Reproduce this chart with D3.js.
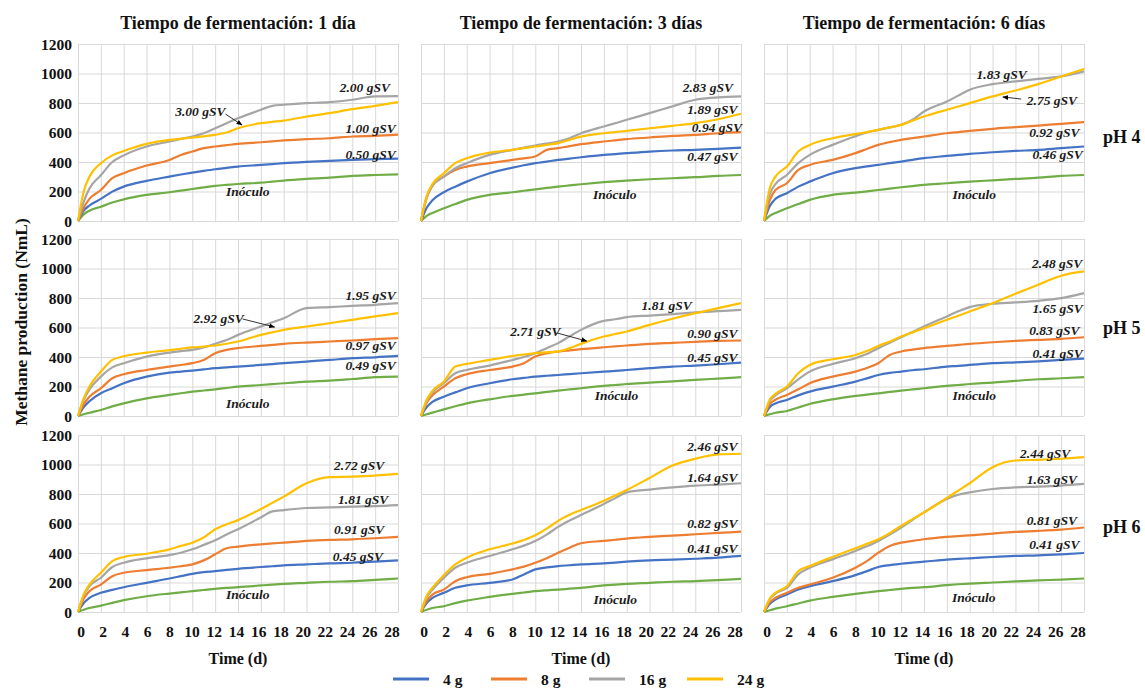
<!DOCTYPE html>
<html><head><meta charset="utf-8">
<script src="https://cdn.jsdelivr.net/npm/d3@7/dist/d3.min.js"></script>
<style>
body{margin:0;background:#fff;}
text{font-family:'Liberation Serif','DejaVu Serif',serif;}
</style></head>
<body><svg id="c" width="1145" height="689" font-family="Liberation Serif, DejaVu Serif, serif"></svg>
<script>
// ---------- data ----------
const days = [0,0.5,1,2,3,4,6,8,9,10,11,12,13,14,16,17,18,20,22,24,26,28];
const xTicks = [0,2,4,6,8,10,12,14,16,18,20,22,24,26,28];
const yTicks = [0,200,400,600,800,1000,1200];
const colTitles = ["Tiempo de fermentación: 1 día","Tiempo de fermentación: 3 días","Tiempo de fermentación: 6 días"];
const rowTitles = ["pH 4","pH 5","pH 6"];
const seriesNames = ["Inóculo","4 g","8 g","16 g","24 g"];
const seriesColors = ["#70AD47","#4472C4","#ED7D31","#A5A5A5","#FFC000"];
const legendNames = ["4 g","8 g","16 g","24 g"];
const legendColors = ["#4472C4","#ED7D31","#A5A5A5","#FFC000"];

// pH 4, 1 day
const ph4_d1_inoc = [0,45,70,97,125,147,177,195,206,217,228,238,245,251,260,267,274,285,294,306,312,316];
const ph4_d1_4g  = [0,70,105,150,199,233,272,301,315,328,340,351,360,369,380,386,392,401,408,414,419,423];
const ph4_d1_8g  = [0,90,150,210,290,324,376,414,448,471,494,505,514,523,534,540,546,555,561,573,577,585];
const ph4_d1_16g = [0,130,220,310,400,445,505,539,556,573,595,629,663,697,754,781,788,799,806,822,845,847];
const ph4_d1_24g = [0,200,300,392,445,475,523,550,558,566,574,584,600,629,663,672,681,708,731,758,781,806];
// pH 4, 3 days
const ph4_d3_inoc = [0,35,55,86,115,143,177,195,205,215,224,233,241,249,263,269,274,283,290,297,306,312];
const ph4_d3_4g  = [0,90,140,195,233,267,324,362,378,392,403,414,423,432,448,454,460,471,478,482,489,498];
const ph4_d3_8g  = [0,160,240,301,346,369,392,414,425,437,482,494,508,521,539,547,555,566,577,584,595,602];
const ph4_d3_16g = [0,160,240,301,358,392,448,482,497,512,525,539,561,595,641,663,686,731,777,822,838,845];
const ph4_d3_24g = [0,170,250,324,392,426,464,482,494,505,516,528,550,572,595,603,611,629,645,663,690,727];
// pH 4, 6 days
const ph4_d6_inoc = [0,35,55,86,115,143,177,192,201,210,220,229,237,245,256,262,267,276,285,294,306,312];
const ph4_d6_4g  = [0,100,150,188,233,267,324,358,370,380,392,403,415,426,441,448,455,466,475,482,494,505];
const ph4_d6_8g  = [0,140,210,256,346,380,414,460,488,516,535,550,562,573,595,603,611,625,636,647,659,670];
const ph4_d6_16g = [0,180,250,312,392,448,516,575,600,618,635,652,686,742,810,850,890,928,946,964,980,1014];
const ph4_d6_24g = [0,220,301,369,471,516,561,589,603,618,635,652,680,708,754,776,799,845,885,928,980,1030];
// pH 5, 1 day
const ph5_d1_inoc = [0,12,22,41,65,86,120,143,154,165,173,181,190,199,210,216,222,233,240,251,263,267];
const ph5_d1_4g  = [0,60,100,154,188,222,267,294,301,308,316,324,330,335,346,352,358,369,380,392,398,407];
const ph5_d1_8g  = [0,80,130,188,256,283,312,335,346,358,380,426,448,460,475,482,489,498,505,512,521,528];
const ph5_d1_16g = [0,110,180,267,330,358,403,430,440,448,465,490,515,550,607,635,663,731,738,747,754,765];
const ph5_d1_24g = [0,120,200,300,380,405,430,447,456,465,470,478,490,505,550,567,584,607,629,652,675,697];
// pH 5, 3 days
const ph5_d3_inoc = [0,12,23,45,66,86,113,136,145,154,163,172,180,188,204,210,217,226,235,245,254,263];
const ph5_d3_4g  = [0,60,95,131,160,188,222,249,258,267,273,278,284,290,301,306,312,324,335,342,351,362];
const ph5_d3_8g  = [0,90,140,199,256,283,312,335,358,403,425,437,445,453,466,472,478,489,496,503,509,512];
const ph5_d3_16g = [0,100,160,222,290,312,342,380,400,426,460,494,540,584,645,656,670,681,691,702,711,720];
const ph5_d3_24g = [0,110,170,233,335,353,380,407,417,426,432,437,460,489,539,556,573,618,659,697,731,765];
// pH 5, 6 days
const ph5_d6_inoc = [0,12,22,34,58,81,113,136,145,154,163,172,180,188,204,210,217,226,238,249,256,263];
const ph5_d6_4g  = [0,60,85,109,140,165,199,233,255,278,292,301,310,317,335,340,346,358,364,371,380,389];
const ph5_d6_8g  = [0,80,110,143,181,222,267,301,325,358,414,437,450,460,475,482,489,500,509,516,523,534];
const ph5_d6_16g = [0,100,140,188,249,301,353,392,420,460,497,534,570,607,675,710,738,761,770,781,799,833];
const ph5_d6_24g = [0,110,150,199,290,346,385,414,440,475,505,539,567,595,652,680,709,765,829,890,951,980];
// pH 6, 1 day
const ph6_d1_inoc = [0,15,27,43,62,80,107,125,133,141,149,157,163,168,180,186,191,198,205,209,218,227];
const ph6_d1_4g  = [0,60,95,130,150,168,198,227,243,259,270,277,285,293,305,310,316,323,330,334,341,350];
const ph6_d1_8g  = [0,90,141,186,243,266,284,300,310,323,350,391,432,443,459,465,470,482,489,493,500,509];
const ph6_d1_16g = [0,110,175,232,305,334,364,386,402,425,455,486,525,561,641,682,691,705,709,714,718,725];
const ph6_d1_24g = [0,120,186,266,345,373,395,425,448,470,505,561,595,623,698,740,782,873,914,918,925,936];
// pH 6, 3 days
const ph6_d3_inoc = [0,15,27,39,60,77,102,123,132,141,147,152,158,164,180,186,191,198,205,209,216,225];
const ph6_d3_4g  = [0,60,95,130,164,180,198,220,255,289,302,311,317,323,330,335,341,350,355,361,368,380];
const ph6_d3_8g  = [0,75,118,152,209,236,259,289,308,334,365,402,436,466,482,490,498,509,518,527,536,545];
const ph6_d3_16g = [0,100,150,232,300,334,380,425,450,482,525,577,620,657,732,772,811,830,845,857,864,873];
const ph6_d3_24g = [0,110,164,250,323,368,425,464,488,520,565,618,659,691,755,790,827,909,993,1039,1068,1073];
// pH 6, 6 days
const ph6_d6_inoc = [0,12,23,39,58,77,102,123,132,141,149,157,163,168,182,188,193,200,207,214,220,227];
const ph6_d6_4g  = [0,55,84,118,152,175,209,250,277,305,318,327,335,341,355,360,364,373,380,384,391,400];
const ph6_d6_8g  = [0,65,95,130,164,186,232,300,345,402,448,470,482,493,509,515,520,532,543,550,559,573];
const ph6_d6_16g = [0,85,125,164,255,300,357,414,445,482,525,573,625,675,766,795,811,834,845,850,857,868];
const ph6_d6_24g = [0,90,130,175,277,311,373,432,462,493,535,584,630,675,773,823,873,982,1027,1032,1039,1050];

// annotations: [text, day, value]
const lab_ph4_d1 = [["2.00 gSV",22.9,902],["3.00 gSV",8.5,739],["1.00 gSV",23.4,624],["0.50 gSV",23.4,454],["Inóculo",12.95,197]];
const lab_ph4_d3 = [["2.83 gSV",22.9,908],["1.89 gSV",23.3,759],["0.94 gSV",23.7,631],["0.47 gSV",23.3,434],["Inóculo",15.05,183]];
const lab_ph4_d6 = [["1.83 gSV",18.6,990],["2.75 gSV",23.0,820],["0.92 gSV",23.2,597],["0.46 gSV",23.5,454],["Inóculo",16.5,183]];
const lab_ph5_d1 = [["1.95 gSV",23.4,820],["2.92 gSV",10.1,658],["0.97 gSV",23.4,475],["0.49 gSV",23.4,339],["Inóculo",12.95,88]];
const lab_ph5_d3 = [["1.81 gSV",19.3,746],["2.71 gSV",7.8,576],["0.90 gSV",23.3,556],["0.45 gSV",23.3,400],["Inóculo",15.2,136]];
const lab_ph5_d6 = [["2.48 gSV",23.45,1037],["1.65 gSV",23.5,732],["0.83 gSV",23.2,583],["0.41 gSV",23.5,427],["Inóculo",16.5,142]];
const lab_ph6_d1 = [["2.72 gSV",22.4,995],["1.81 gSV",22.75,763],["0.91 gSV",22.4,559],["0.45 gSV",22.3,375],["Inóculo",12.95,116]];
const lab_ph6_d3 = [["2.46 gSV",23.3,1125],["1.64 gSV",23.3,913],["0.82 gSV",23.3,600],["0.41 gSV",23.3,429],["Inóculo",15.1,82]];
const lab_ph6_d6 = [["2.44 gSV",22.4,1077],["1.63 gSV",23.0,900],["0.81 gSV",23.0,620],["0.41 gSV",23.2,457],["Inóculo",16.45,95]];
// arrows: [fromDay, fromValue, toDay, toValue]
const arr_ph4_d1 = [[12.9,725,14.35,651]];
const arr_ph4_d6 = [[22.5,827,20.9,841]];
const arr_ph5_d1 = [[14.4,658,17.2,603]];
const arr_ph5_d3 = [[11.9,563,14.5,508]];

const panels = [
  [ {s:[ph4_d1_inoc,ph4_d1_4g,ph4_d1_8g,ph4_d1_16g,ph4_d1_24g], l:lab_ph4_d1, a:arr_ph4_d1},
    {s:[ph4_d3_inoc,ph4_d3_4g,ph4_d3_8g,ph4_d3_16g,ph4_d3_24g], l:lab_ph4_d3, a:[]},
    {s:[ph4_d6_inoc,ph4_d6_4g,ph4_d6_8g,ph4_d6_16g,ph4_d6_24g], l:lab_ph4_d6, a:arr_ph4_d6} ],
  [ {s:[ph5_d1_inoc,ph5_d1_4g,ph5_d1_8g,ph5_d1_16g,ph5_d1_24g], l:lab_ph5_d1, a:arr_ph5_d1},
    {s:[ph5_d3_inoc,ph5_d3_4g,ph5_d3_8g,ph5_d3_16g,ph5_d3_24g], l:lab_ph5_d3, a:arr_ph5_d3},
    {s:[ph5_d6_inoc,ph5_d6_4g,ph5_d6_8g,ph5_d6_16g,ph5_d6_24g], l:lab_ph5_d6, a:[]} ],
  [ {s:[ph6_d1_inoc,ph6_d1_4g,ph6_d1_8g,ph6_d1_16g,ph6_d1_24g], l:lab_ph6_d1, a:[]},
    {s:[ph6_d3_inoc,ph6_d3_4g,ph6_d3_8g,ph6_d3_16g,ph6_d3_24g], l:lab_ph6_d3, a:[]},
    {s:[ph6_d6_inoc,ph6_d6_4g,ph6_d6_8g,ph6_d6_16g,ph6_d6_24g], l:lab_ph6_d6, a:[]} ]
];

// ---------- layout ----------
const FONT = "'Liberation Serif','DejaVu Serif',serif";
const colX = [78, 421, 764];
const rowY = [44, 239, 435];
const pw = 320, ph = 177;

const svg = d3.select("#c");
svg.append("defs").append("marker")
  .attr("id","ah").attr("viewBox","0 0 10 10").attr("refX",9).attr("refY",5)
  .attr("markerWidth",6).attr("markerHeight",6).attr("orient","auto")
  .append("path").attr("d","M0,1 L10,5 L0,9 Z").attr("fill","#000");

const x = d3.scaleLinear().domain([0,28]).range([0,pw]);
const xLab = d3.scaleLinear().domain([0,28]).range([3,pw-6]);
const y = d3.scaleLinear().domain([0,1200]).range([ph,0]);
const line = d3.line().x(d=>x(d[0])).y(d=>y(d[1])).curve(d3.curveMonotoneX);

function txt(sel){ return sel.style("font-family",FONT).attr("font-weight","bold").attr("fill","#111"); }

panels.forEach((row,ri)=>{
  row.forEach((p,ci)=>{
    const g = svg.append("g").attr("transform",`translate(${colX[ci]},${rowY[ri]})`);
    g.append("g").selectAll("line").data(yTicks).join("line")
      .attr("x1",0).attr("x2",pw).attr("y1",d=>y(d)+0.5).attr("y2",d=>y(d)+0.5)
      .attr("stroke","#d9d9d9").attr("stroke-width",1);
    g.append("g").selectAll("line").data(xTicks).join("line")
      .attr("y1",0).attr("y2",ph).attr("x1",d=>x(d)+0.5).attr("x2",d=>x(d)+0.5)
      .attr("stroke","#d9d9d9").attr("stroke-width",1);
    p.s.forEach((vals,si)=>{
      g.append("path").datum(days.map((d,i)=>[d,vals[i]]))
        .attr("d",line).attr("fill","none")
        .attr("stroke",seriesColors[si]).attr("stroke-width",2.2)
        .attr("stroke-linejoin","round");
    });
    txt(g.append("g").selectAll("text").data(p.l).join("text"))
      .attr("x",d=>x(d[1])).attr("y",d=>y(d[2]))
      .attr("dominant-baseline","central")
      .attr("font-size",13.5).attr("font-style","italic")
      .attr("fill","#1a1a1a").text(d=>d[0]);
    g.append("g").selectAll("line").data(p.a).join("line")
      .attr("x1",d=>x(d[0])).attr("y1",d=>y(d[1]))
      .attr("x2",d=>x(d[2])).attr("y2",d=>y(d[3]))
      .attr("stroke","#333").attr("stroke-width",1).attr("marker-end","url(#ah)");
    if(ci===0){
      txt(g.append("g").selectAll("text").data(yTicks).join("text"))
        .attr("x",-6).attr("y",d=>y(d)).attr("text-anchor","end")
        .attr("dominant-baseline","central")
        .attr("font-size",15.5).text(d=>d);
    }
    if(ri===2){
      txt(g.append("g").selectAll("text").data(xTicks).join("text"))
        .attr("x",d=>xLab(d)).attr("y",ph+19).attr("text-anchor","middle")
        .attr("dominant-baseline","central")
        .attr("font-size",15.5).text(d=>d);
      txt(g.append("text")).attr("x",pw/2).attr("y",ph+46).attr("text-anchor","middle")
        .attr("dominant-baseline","central")
        .attr("font-size",16).text("Time (d)");
    }
    if(ri===0){
      txt(g.append("text")).attr("x",pw/2).attr("y",-21).attr("text-anchor","middle")
        .attr("dominant-baseline","central")
        .attr("font-size",18).text(colTitles[ci]);
    }
    if(ci===2){
      txt(g.append("text")).attr("x",pw+19).attr("y",[93,89,92][ri]).attr("text-anchor","start")
        .attr("dominant-baseline","central")
        .attr("font-size",18).text(rowTitles[ri]);
    }
  });
});

txt(svg.append("text")).attr("transform","translate(21,322) rotate(-90)")
  .attr("text-anchor","middle").attr("dominant-baseline","central")
  .attr("font-size",17.5).text("Methane production (NmL)");

const lg = svg.append("g").attr("transform","translate(393,679)");
legendNames.forEach((n,i)=>{
  const gx = i*98;
  lg.append("line").attr("x1",gx).attr("x2",gx+36).attr("y1",0).attr("y2",0)
    .attr("stroke",legendColors[i]).attr("stroke-width",3);
  txt(lg.append("text")).attr("x",gx+50).attr("y",0).attr("dominant-baseline","central")
    .attr("font-size",15.5).text(n);
});
</script></body></html>
